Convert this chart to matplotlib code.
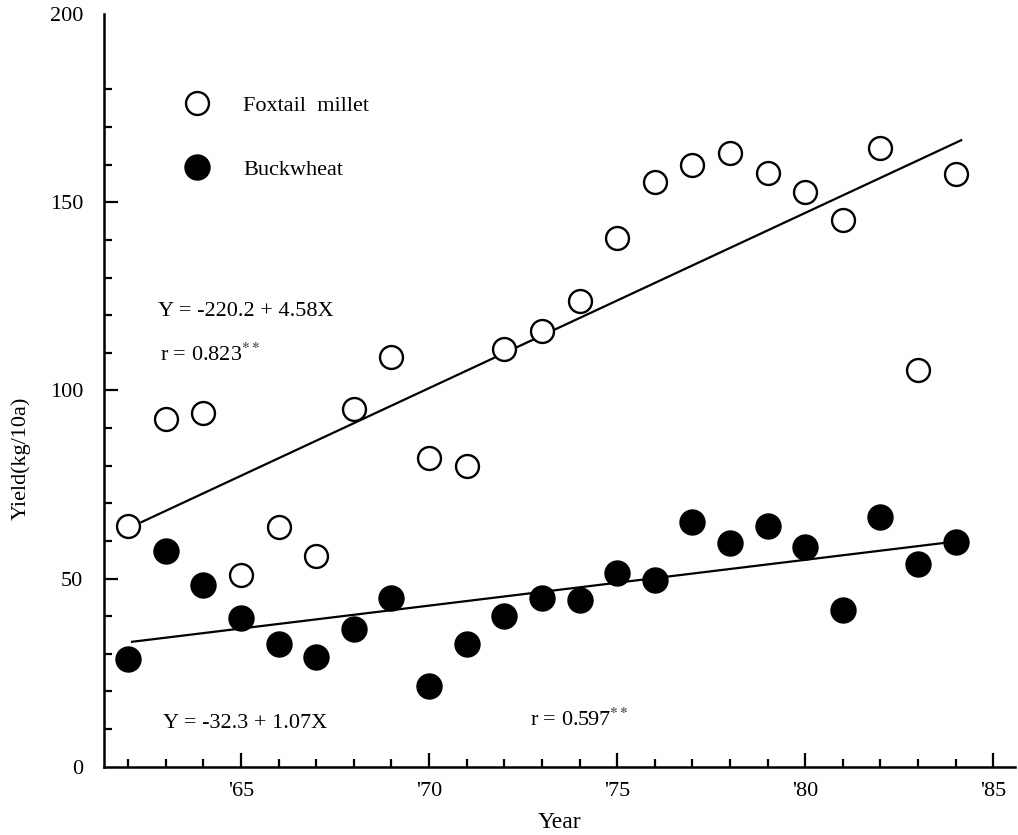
import matplotlib
matplotlib.use("Agg")
import matplotlib.pyplot as plt
from matplotlib.ticker import FixedLocator
from matplotlib.lines import Line2D

# yields (kg/10a)
years = list(range(1962, 1985))
foxtail = [64, 92.5, 94, 51, 63.6, 56, 95, 109, 82, 80, 111, 115.7, 123.7,
           140.5, 155.3, 159.8, 163.1, 157.8, 152.7, 145.4, 164.5, 105.5, 157.4]
buckwheat = [28.6, 57.4, 48.3, 39.6, 32.6, 29.1, 36.6, 44.8, 21.5, 32.6, 40.1,
             44.8, 44.3, 51.4, 49.7, 65.0, 59.4, 64.0, 58.3, 41.7, 66.4, 54.0, 59.7]

fox_line_x = [1962.35, 1984.15]
fox_line_y = [65.0, 166.5]
buck_line_x = [1962.1, 1983.8]
buck_line_y = [33.2, 59.6]

major_years = [1965, 1970, 1975, 1980, 1985]
major_labels = ["'65", "'70", "'75", "'80", "'85"]
y_major = [0, 50, 100, 150, 200]

plt.rcParams['font.family'] = ['Liberation Serif', 'DejaVu Serif']
plt.rcParams['mathtext.fontset'] = 'stix'

fig = plt.figure(figsize=(10.18, 8.35), dpi=100)
ax = fig.add_axes([0.102, 0.0818, 0.895, 0.9012])

ax.plot(years, foxtail, 'o', ms=16.5, mfc='white', mec='black', mew=1.7,
        linestyle='none', zorder=3)
ax.plot(years, buckwheat, 'o', ms=18, mfc='black', mec='black',
        linestyle='none', zorder=3)

ax.plot(fox_line_x, fox_line_y, color='black', lw=1.6, zorder=2)
ax.plot(buck_line_x, buck_line_y, color='black', lw=1.6, zorder=2)

ax.set_xlim(1961.35, 1985.58)
ax.set_ylim(0, 200)

for s in ['top', 'right']:
    ax.spines[s].set_visible(False)
for s in ['left', 'bottom']:
    ax.spines[s].set_linewidth(1.8)

ax.xaxis.set_major_locator(FixedLocator(major_years))
ax.set_xticklabels(major_labels)
ax.xaxis.set_minor_locator(FixedLocator([y for y in range(1962, 1985) if y not in major_years]))
ax.yaxis.set_major_locator(FixedLocator(y_major))
ax.yaxis.set_minor_locator(FixedLocator([v for v in range(10, 190, 10) if v % 50]))

ax.tick_params(axis='both', which='both', direction='in', width=1.6)
ax.tick_params(axis='x', which='major', length=10, pad=11, labelsize=16)
ax.tick_params(axis='x', which='minor', length=6)
ax.tick_params(axis='y', which='major', length=10, pad=15, labelsize=16)
ax.tick_params(axis='y', which='minor', length=6)
ax.yaxis.get_major_ticks()[-1].tick1line.set_visible(False)
ax.yaxis.get_major_ticks()[0].tick1line.set_visible(False)

ax.set_xlabel('Year', fontsize=17, labelpad=8)
ax.set_ylabel('Yield(kg/10a)', fontsize=16)
ax.yaxis.set_label_coords(-0.08, 0.41)

handles = [Line2D([], [], marker='o', ms=16.5, mfc='white', mec='black', mew=1.7, ls='none'),
           Line2D([], [], marker='o', ms=18, mfc='black', mec='black', ls='none')]
ax.legend(handles, ['Foxtail  millet', 'Buckwheat'], loc='upper left',
          bbox_to_anchor=(0.075, 0.907), frameon=False, fontsize=16,
          handlelength=1.2, handletextpad=1.5, labelspacing=1.95, borderpad=0)

ax.text(1962.79, 120.9, 'Y = -220.2 + 4.58X', fontsize=16, va='center')
ax.text(1962.84, 109.5, 'r = 0.823$^{**}$', fontsize=16, va='center')
ax.text(1962.93, 11.6, 'Y = -32.3 + 1.07X', fontsize=16, va='center')
ax.text(1972.68, 12.4, 'r = 0.597$^{**}$', fontsize=16, va='center')

fig.savefig('out.png', dpi=100)
